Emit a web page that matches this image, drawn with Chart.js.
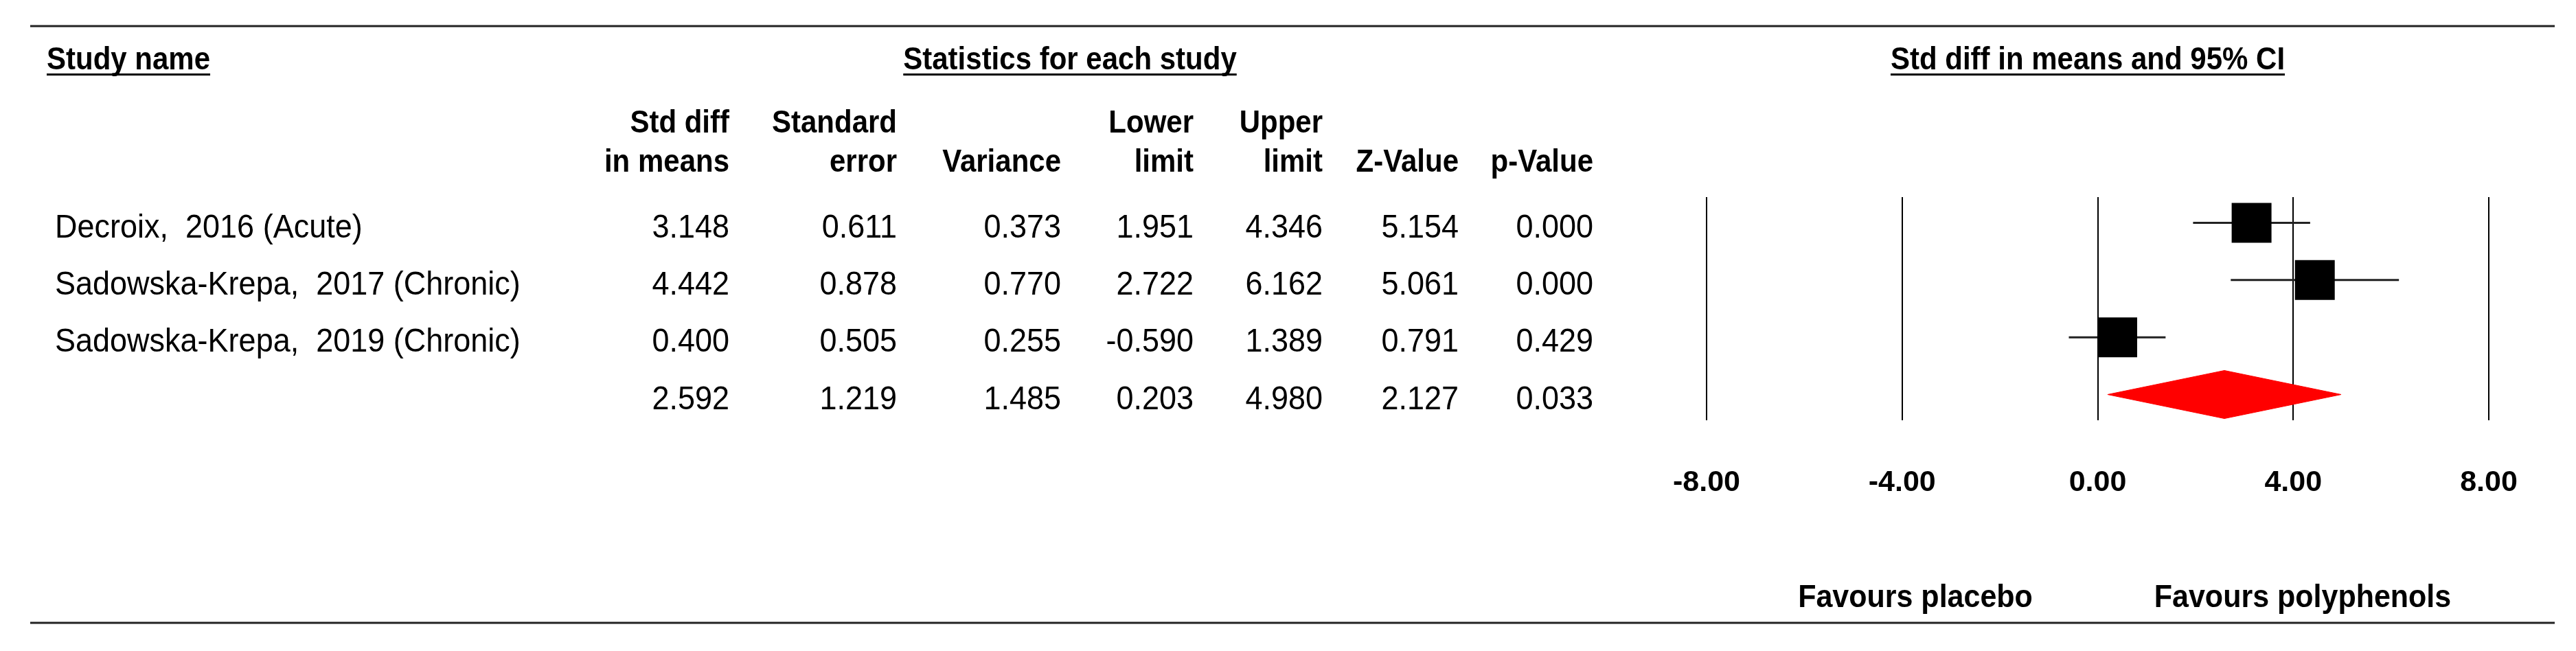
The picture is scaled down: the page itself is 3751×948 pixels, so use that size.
<!DOCTYPE html>
<html>
<head>
<meta charset="utf-8">
<title>Std diff in means - forest plot</title>
<script src="https://cdn.jsdelivr.net/npm/chart.js@4.4.1/dist/chart.umd.min.js"></script>
<style>
  html, body { margin: 0; padding: 0; background: #fff; }
  #wrap { width: 3751px; height: 948px; }
</style>
</head>
<body>
<div id="wrap"><canvas id="forest" width="3751" height="948"></canvas></div>
<script>
// Study rows; the last row is the pooled estimate (no name)
const studyNames = ['Decroix,  2016 (Acute)', 'Sadowska-Krepa,  2017 (Chronic)', 'Sadowska-Krepa,  2019 (Chronic)', ''];
const stdDiff = [3.148, 4.442, 0.400, 2.592];
const stdError = [0.611, 0.878, 0.505, 1.219];
const variance = [0.373, 0.770, 0.255, 1.485];
const lowerLimit = [1.951, 2.722, -0.590, 0.203];
const upperLimit = [4.346, 6.162, 1.389, 4.980];
const zValue = [5.154, 5.061, 0.791, 2.127];
const pValue = [0.000, 0.000, 0.429, 0.033];

// Table headings and axis labels
const columnTop = ['Std diff', 'Standard', '', 'Lower', 'Upper', '', ''];
const columnBottom = ['in means', 'error', 'Variance', 'limit', 'limit', 'Z-Value', 'p-Value'];
const sectionTitles = ['Study name', 'Statistics for each study', 'Std diff in means and 95% CI'];
const xTicks = [-8, -4, 0, 4, 8];
const favoursLabels = ['Favours placebo', 'Favours polyphenols'];

const columns = [stdDiff, stdError, variance, lowerLimit, upperLimit, zValue, pValue];
const studyCount = 3;

const FONT = '"Liberation Sans", Arial, Helvetica, sans-serif';
const REGULAR = `45px ${FONT}`;
const BOLD = `bold 42px ${FONT}`;
const BOLD_AXIS = `bold 43px ${FONT}`;
const STRETCH = 1.08; // the original text is a little taller than plain Arial

// Layout of the table part (pixels)
const colRight = [1062, 1306, 1545, 1738, 1926, 2124, 2320];
const nameX = 80;

function text(ctx, str, x, y, align) {
  ctx.save();
  ctx.translate(x, y);
  ctx.scale(1, STRETCH);
  ctx.textAlign = align;
  ctx.fillText(str, 0, 0);
  ctx.restore();
}

function underlined(ctx, str, x, y, align) {
  text(ctx, str, x, y, align);
  const w = ctx.measureText(str).width;
  const left = align === 'center' ? x - w / 2 : x;
  ctx.fillRect(left, y + 6, w, 3);
}

/**
 * Draw the statistics table and the frame around the plot
 */
const tablePlugin = {
  id: 'studyTable',
  afterDraw(chart) {
    const ctx = chart.ctx;
    const yScale = chart.scales.y;
    ctx.save();
    ctx.fillStyle = '#000';
    ctx.textBaseline = 'alphabetic';

    // Top and bottom rules
    ctx.strokeStyle = '#222';
    ctx.lineWidth = 3;
    [38, 907].forEach(ly => {
      ctx.beginPath();
      ctx.moveTo(44, ly);
      ctx.lineTo(3720, ly);
      ctx.stroke();
    });

    // Section headings
    ctx.font = BOLD;
    underlined(ctx, sectionTitles[0], 68, 101, 'left');
    underlined(ctx, sectionTitles[1], 1558, 101, 'center');
    underlined(ctx, sectionTitles[2], 3040, 101, 'center');

    // Column headings
    columnTop.forEach((t, i) => text(ctx, t, colRight[i], 193, 'right'));
    columnBottom.forEach((t, i) => text(ctx, t, colRight[i], 250, 'right'));

    // Study rows
    ctx.font = REGULAR;
    studyNames.forEach((name, r) => {
      const py = yScale.getPixelForValue(r + 1) + 21;
      text(ctx, name, nameX, py, 'left');
      columns.forEach((col, c) => text(ctx, col[r].toFixed(3), colRight[c], py, 'right'));
    });

    // Favours labels
    ctx.font = BOLD_AXIS;
    text(ctx, favoursLabels[0], 2789, 884, 'center');
    text(ctx, favoursLabels[1], 3353, 884, 'center');
    ctx.restore();
  }
};

// Boxes (point estimates)
const datasets = [{
  data: stdDiff.slice(0, studyCount).map((v, i) => ({ x: v, y: i + 1 })),
  pointStyle: 'rect',
  pointRadius: 41,
  pointHoverRadius: 41,
  backgroundColor: '#000',
  borderWidth: 0
}];

// Confidence interval whiskers
for (let i = 0; i < studyCount; i++) {
  datasets.push({
    data: [{ x: lowerLimit[i], y: i + 1 }, { x: upperLimit[i], y: i + 1 }],
    showLine: true,
    borderColor: '#222',
    borderWidth: 3,
    pointRadius: 0
  });
}

// Pooled estimate diamond
const pooledRow = studyCount + 1;
const halfHeight = 0.42;
const p = studyCount;
datasets.push({
  data: [
    { x: lowerLimit[p], y: pooledRow },
    { x: stdDiff[p], y: pooledRow - halfHeight },
    { x: upperLimit[p], y: pooledRow },
    { x: stdDiff[p], y: pooledRow + halfHeight },
    { x: lowerLimit[p], y: pooledRow }
  ],
  showLine: true,
  fill: 'shape',
  tension: 0,
  backgroundColor: '#ff0000',
  borderColor: '#ff0000',
  borderWidth: 1,
  pointRadius: 0
});

new Chart(document.getElementById('forest'), {
  type: 'scatter',
  data: { datasets },
  options: {
    responsive: false,
    animation: false,
    devicePixelRatio: 1,
    layout: { padding: { left: 2485, right: 127, top: 287, bottom: 0 } },
    plugins: {
      legend: { display: false },
      tooltip: { enabled: false }
    },
    scales: {
      x: {
        type: 'linear',
        min: xTicks[0],
        max: xTicks[xTicks.length - 1],
        afterBuildTicks: s => { s.ticks = xTicks.map(v => ({ value: v })); },
        afterFit: s => { s.height = 336; },
        grid: { color: '#000', lineWidth: 2, drawTicks: false },
        border: { display: false },
        ticks: {
          padding: 65,
          color: '#000',
          font: { family: FONT, size: 43, weight: 'bold' },
          callback: v => v.toFixed(2)
        }
      },
      y: {
        type: 'linear',
        display: false,
        reverse: true,
        min: 0.55,
        max: 4.45
      }
    }
  },
  plugins: [tablePlugin]
});
</script>
</body>
</html>
